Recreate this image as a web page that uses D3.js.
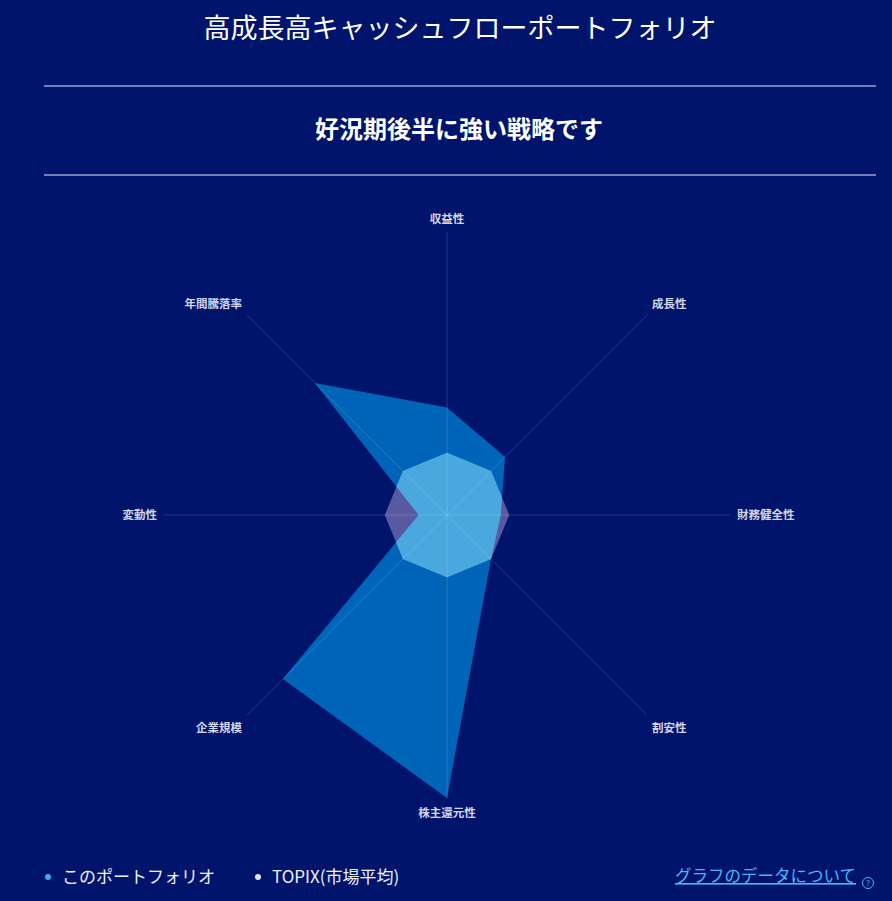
<!DOCTYPE html>
<html>
<head>
<meta charset="utf-8">
<script src="https://cdn.jsdelivr.net/npm/d3@7"></script>
<style>
  html, body { margin: 0; padding: 0; background: #00146b; }
  svg { display: block; font-family: "Noto Sans CJK JP", "Noto Sans", sans-serif; }
</style>
</head>
<body>
<div id="chart"></div>
<script>
// axis names, clockwise from the top
var axes = ["収益性", "成長性", "財務健全性", "割安性", "株主還元性", "企業規模", "変動性", "年間騰落率"];
// scores (0-100)
var portfolio = [38, 29, 19, 22, 100, 82, 10, 66];
var topix = [22, 22, 22, 22, 22, 22, 22, 22];
var seriesNames = ["このポートフォリオ", "TOPIX(市場平均)"];

var title = "高成長高キャッシュフローポートフォリオ";
var subtitle = "好況期後半に強い戦略です";
var linkText = "グラフのデータについて";

var W = 892, H = 901;
var cx = 447, cy = 515, R = 283;

var svg = d3.select("#chart").append("svg").attr("width", W).attr("height", H);
svg.append("rect").attr("width", W).attr("height", H).attr("fill", "#00146b");

// header
svg.append("text").attr("x", 460).attr("y", 38).attr("text-anchor", "middle")
  .attr("fill", "#ffffff").style("font-size", "27px").text(title);
svg.append("line").attr("x1", 44).attr("x2", 876).attr("y1", 86).attr("y2", 86)
  .attr("stroke", "#9aa2cc").attr("stroke-width", 1.5);
svg.append("text").attr("x", 459).attr("y", 138).attr("text-anchor", "middle")
  .attr("fill", "#ffffff").style("font-size", "24px").style("font-weight", "bold").text(subtitle);
svg.append("line").attr("x1", 44).attr("x2", 876).attr("y1", 175).attr("y2", 175)
  .attr("stroke", "#9aa2cc").attr("stroke-width", 1.5);

// radar
var rScale = d3.scaleLinear().domain([0, 100]).range([0, R]);
var angle = d3.scaleLinear().domain([0, axes.length]).range([0, 2 * Math.PI]);

var g = svg.append("g").attr("transform", "translate(" + cx + "," + cy + ")");

var radial = d3.lineRadial()
  .angle(function(d, i) { return angle(i); })
  .radius(function(d) { return rScale(d); })
  .curve(d3.curveLinearClosed);

// clip to the portfolio shape, used for the overlap colour
svg.append("defs").append("clipPath").attr("id", "pfClip")
  .append("path").datum(portfolio).attr("d", radial);

g.append("path").datum(portfolio).attr("d", radial)
  .attr("fill", "rgb(0,120,205)").attr("fill-opacity", 0.8);

g.append("path").datum(topix).attr("d", radial)
  .attr("fill", "rgb(175,160,215)").attr("fill-opacity", 0.5);

// overlap of topix and portfolio shows as a light sky blue
g.append("path").datum(topix).attr("d", radial)
  .attr("clip-path", "url(#pfClip)")
  .attr("fill", "rgb(74,168,222)");

// spokes
g.selectAll(".spoke").data(axes).enter().append("line")
  .attr("x1", 0).attr("y1", 0)
  .attr("x2", function(d, i) { return rScale(100) * Math.sin(angle(i)); })
  .attr("y2", function(d, i) { return -rScale(100) * Math.cos(angle(i)); })
  .attr("stroke", "#ffffff").attr("stroke-opacity", 0.14).attr("stroke-width", 1);

// axis labels
var labelR = rScale(100) + 7;
g.selectAll(".lbl").data(axes).enter().append("text")
  .attr("x", function(d, i) { return labelR * Math.sin(angle(i)); })
  .attr("y", function(d, i) {
    var c = -Math.cos(angle(i));
    return labelR * c + (c < -0.1 ? -6 : (c > 0.1 ? 8 : 0));
  })
  .attr("dy", "0.35em")
  .attr("text-anchor", function(d, i) {
    var s = Math.sin(angle(i));
    return s > 0.1 ? "start" : (s < -0.1 ? "end" : "middle");
  })
  .attr("fill", "#d2d6ea").style("font-size", "11.5px").style("font-weight", "bold")
  .text(function(d) { return d; });

// legend
var legendColors = ["#3fa9f5", "#e4e4ee"];
var legendX = [48, 258];
seriesNames.forEach(function(n, i) {
  svg.append("circle").attr("cx", legendX[i]).attr("cy", 877).attr("r", 3).attr("fill", legendColors[i]);
  svg.append("text").attr("x", legendX[i] + 14).attr("y", 883).attr("fill", "#eef0f8")
    .style("font-size", "17px").text(n);
});

// data link
svg.append("text").attr("x", 856).attr("y", 882).attr("text-anchor", "end")
  .attr("fill", "#4fb0f5").style("font-size", "16.5px").style("text-decoration", "underline")
  .text(linkText);
svg.append("circle").attr("cx", 868).attr("cy", 883).attr("r", 5.5)
  .attr("fill", "none").attr("stroke", "#4fb0f5").attr("stroke-width", 1);
svg.append("text").attr("x", 868).attr("y", 886).attr("text-anchor", "middle")
  .attr("fill", "#4fb0f5").style("font-size", "8px").text("?");
</script>
</body>
</html>
